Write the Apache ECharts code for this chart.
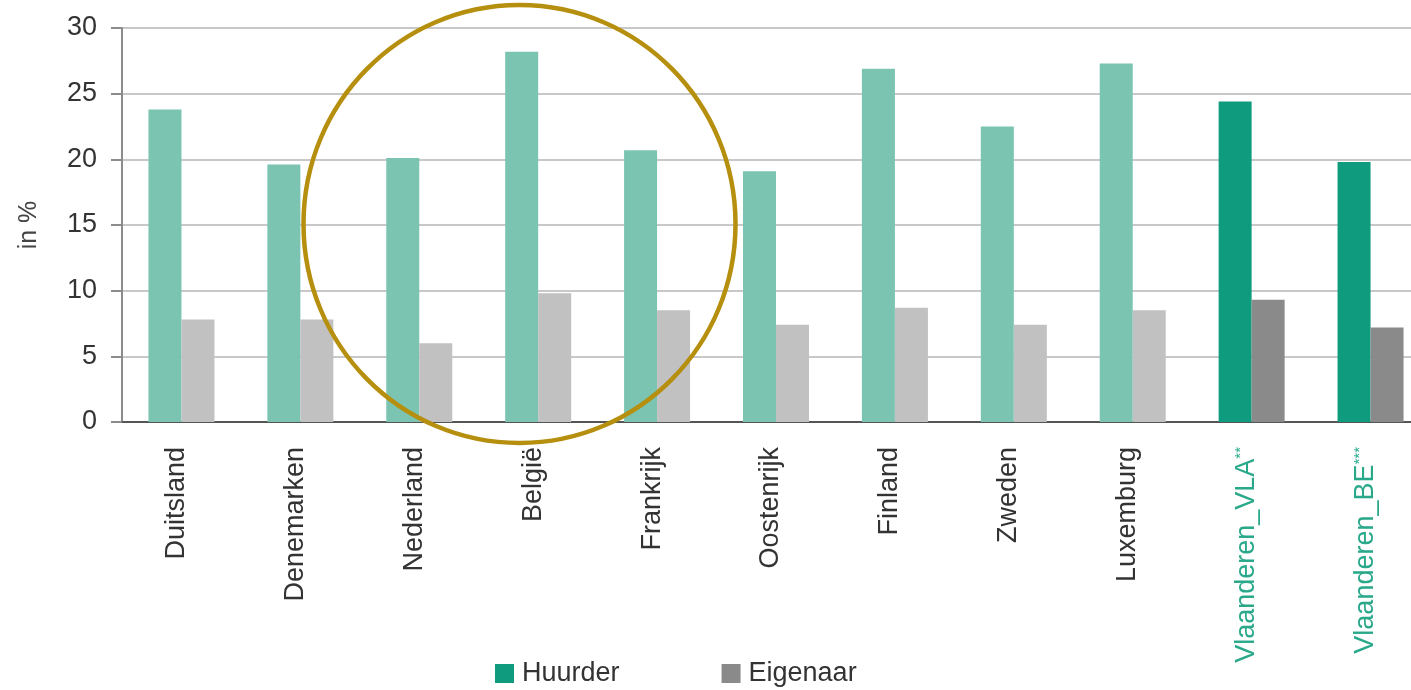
<!DOCTYPE html>
<html>
<head>
<meta charset="utf-8">
<title>Huurder vs Eigenaar</title>
<script src="https://cdn.jsdelivr.net/npm/echarts@6/dist/echarts.min.js"></script>
<style>
  html, body { margin: 0; padding: 0; background: #fff; }
  #chart { width: 1411px; height: 690px; }
</style>
</head>
<body>
<div id="chart"></div>
<script>
// data
var categories = ['Duitsland', 'Denemarken', 'Nederland', 'België', 'Frankrijk', 'Oostenrijk',
  'Finland', 'Zweden', 'Luxemburg', 'Vlaanderen_VLA', 'Vlaanderen_BE'];
var footnotes = ['', '', '', '', '', '', '', '', '', '**', '***'];
var huurder = [23.8, 19.6, 20.1, 28.2, 20.7, 19.1, 26.9, 22.5, 27.3, 24.4, 19.8];
var eigenaar = [7.8, 7.8, 6.0, 9.8, 8.5, 7.4, 8.7, 7.4, 8.5, 9.3, 7.2];
var highlighted = ['Vlaanderen_VLA', 'Vlaanderen_BE'];
var yTicks = { min: 0, max: 30, interval: 5 };

var font = '"Liberation Sans", Arial, sans-serif';
var green = '#0f9c7e', greenLight = '#7ac4b1';
var grey = '#8a8a8a', greyLight = '#c1c1c1';
var flemish = '#2aa88a';

function barData(values, light) {
  return values.map(function (v, i) {
    if (highlighted.indexOf(categories[i]) >= 0) return v;
    return { value: v, itemStyle: { color: light } };
  });
}

var chart = echarts.init(document.getElementById('chart'), null, { renderer: 'canvas' });
chart.setOption({
  animation: false,
  textStyle: { fontFamily: font },
  // plot runs past the right edge of the picture
  grid: { left: 122, top: 28, width: 1308, height: 394, containLabel: false, outerBoundsMode: 'none' },
  legend: {
    left: 490, top: 655,
    itemWidth: 19, itemHeight: 19, itemGap: 102,
    icon: 'rect',
    textStyle: { fontSize: 27, color: '#333', fontFamily: font, padding: [0, 0, 0, 3] },
    data: ['Huurder', 'Eigenaar']
  },
  xAxis: {
    type: 'category',
    data: categories,
    axisLine: { lineStyle: { color: '#555', width: 2 } },
    axisTick: { show: false },
    axisLabel: {
      interval: 0, rotate: 90, margin: 25, fontSize: 27, color: '#333', fontFamily: font,
      padding: [0, 0, 10, 0],
      formatter: function (val, i) {
        if (highlighted.indexOf(val) >= 0) return '{g|' + val + '}{s|' + footnotes[i] + '}';
        return val;
      },
      rich: {
        g: { fontSize: 27, color: flemish, fontFamily: font },
        s: { fontSize: 15, color: flemish, fontFamily: font, verticalAlign: 'top', padding: [0, 0, 8, 0] }
      }
    }
  },
  yAxis: {
    type: 'value',
    min: yTicks.min, max: yTicks.max, interval: yTicks.interval,
    name: 'in %',
    nameLocation: 'middle',
    nameRotate: 90,
    nameGap: 80,
    nameTextStyle: { fontSize: 25, color: '#444', fontFamily: font },
    axisLine: { show: true, lineStyle: { color: '#8c8c8c', width: 2 } },
    axisTick: { show: true, length: 11, lineStyle: { color: '#8c8c8c', width: 2 } },
    axisLabel: { fontSize: 27, color: '#333', margin: 25, fontFamily: font },
    splitLine: { lineStyle: { color: '#c8c8c8', width: 2 } }
  },
  series: [
    {
      name: 'Huurder', type: 'bar', barWidth: 33, barGap: '0%',
      itemStyle: { color: green },
      data: barData(huurder, greenLight)
    },
    {
      name: 'Eigenaar', type: 'bar', barWidth: 33,
      itemStyle: { color: grey },
      data: barData(eigenaar, greyLight)
    }
  ],
  graphic: [{
    type: 'ellipse',
    shape: { cx: 519.5, cy: 224, rx: 216, ry: 219 },
    style: { fill: 'none', stroke: '#b58f0d', lineWidth: 4.5 },
    z: 100
  }]
});
window.addEventListener('resize', function () { chart.resize(); });
</script>
</body>
</html>
